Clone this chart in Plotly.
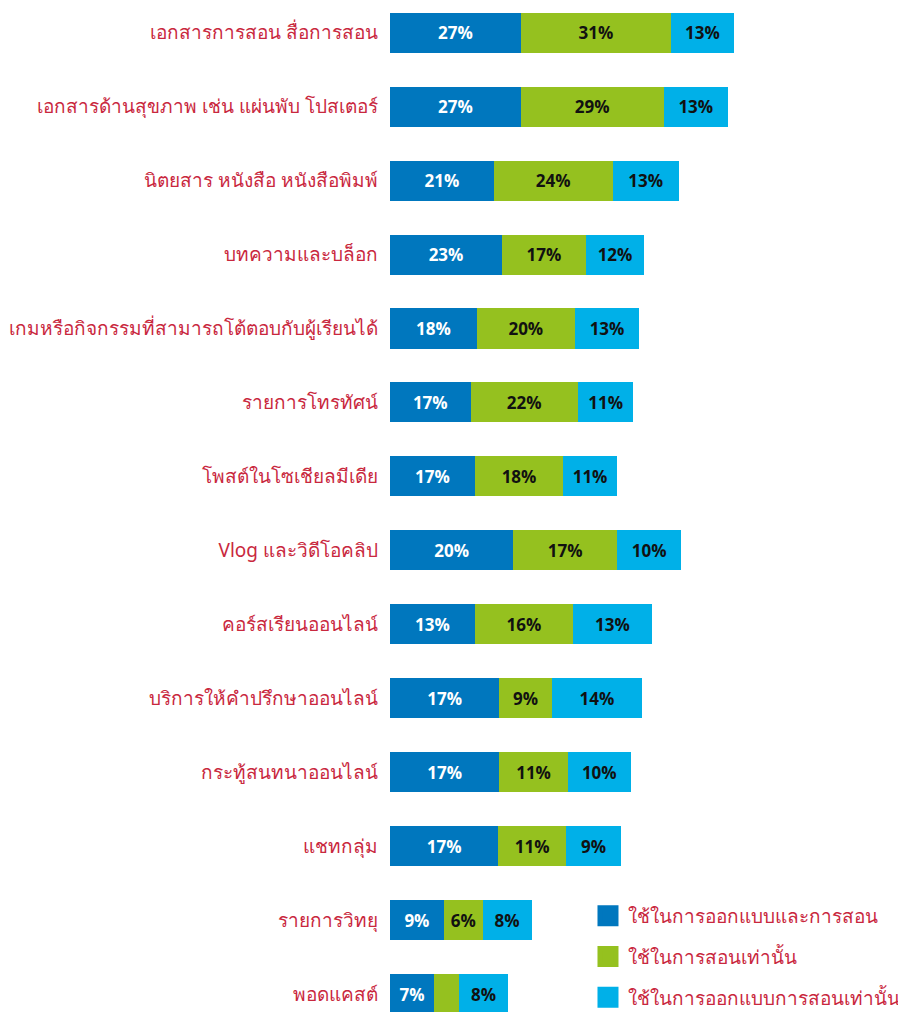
import plotly.graph_objects as go

categories = [
    "เอกสารการสอน สื่อการสอน",
    "เอกสารด้านสุขภาพ เช่น แผ่นพับ โปสเตอร์",
    "นิตยสาร หนังสือ หนังสือพิมพ์",
    "บทความและบล็อก",
    "เกมหรือกิจกรรมที่สามารถโต้ตอบกับผู้เรียนได้",
    "รายการโทรทัศน์",
    "โพสต์ในโซเชียลมีเดีย",
    "Vlog และวิดีโอคลิป",
    "คอร์สเรียนออนไลน์",
    "บริการให้คำปรึกษาออนไลน์",
    "กระทู้สนทนาออนไลน์",
    "แชทกลุ่ม",
    "รายการวิทยุ",
    "พอดแคสต์",
]

series_names = [
    "ใช้ในการออกแบบและการสอน",
    "ใช้ในการสอนเท่านั้น",
    "ใช้ในการออกแบบการสอนเท่านั้น",
]

# bar lengths as drawn in the picture (percent units)
design_and_teach = [27.0, 27.0, 21.4, 23.1, 17.9, 16.6, 17.5, 25.4, 17.5, 22.5, 22.5, 22.3, 11.1, 9.1]
teach_only = [30.9, 29.4, 24.5, 17.3, 20.2, 22.1, 18.2, 21.4, 20.2, 10.9, 14.2, 14.0, 8.0, 5.1]
design_only = [13.0, 13.3, 13.6, 12.0, 13.3, 11.5, 11.1, 13.3, 16.3, 18.5, 12.9, 11.3, 10.1, 10.2]

# printed labels
design_and_teach_lbl = ["27%", "27%", "21%", "23%", "18%", "17%", "17%", "20%", "13%", "17%", "17%", "17%", "9%", "7%"]
teach_only_lbl = ["31%", "29%", "24%", "17%", "20%", "22%", "18%", "17%", "16%", "9%", "11%", "11%", "6%", ""]
design_only_lbl = ["13%", "13%", "13%", "12%", "13%", "11%", "11%", "10%", "13%", "14%", "10%", "9%", "8%", "8%"]

colors = ["#0077BE", "#95C11F", "#00B0E8"]
text_colors = ["#FFFFFF", "#111111", "#111111"]
label_color = "#C9283E"

fig = go.Figure()
for i, (name, vals, lbls, col, tcol) in enumerate(zip(
    series_names,
    [design_and_teach, teach_only, design_only],
    [design_and_teach_lbl, teach_only_lbl, design_only_lbl],
    colors, text_colors,
)):
    fig.add_trace(go.Bar(
        y=categories, x=vals, orientation="h", name=name,
        marker=dict(color=col, line=dict(width=0)),
        text=lbls, textposition="inside", insidetextanchor="middle",
        textangle=0, constraintext="none",
        textfont=dict(family="Open Sans", size=17, color=tcol, weight="bold"),
        showlegend=False, hoverinfo="skip",
    ))
    # legend entry with larger square
    fig.add_trace(go.Scatter(
        x=[None], y=[None], mode="markers", name=name,
        legendgroup=f"g{i}",
        marker=dict(symbol="square", size=16, color=col, line=dict(color=col, width=5)),
        showlegend=True, hoverinfo="skip",
    ))

fig.update_layout(
    width=898, height=1004,
    margin=dict(l=382, r=0, t=0, b=0, autoexpand=False),
    barmode="stack", bargap=0.459,
    plot_bgcolor="white", paper_bgcolor="white",
    xaxis=dict(range=[0, 106.4], visible=False, fixedrange=True),
    yaxis=dict(
        categoryorder="array", categoryarray=categories,
        range=[13.243, -0.334], showgrid=False, zeroline=False,
        showline=False, ticks="", ticklabelstandoff=11, automargin=False,
        tickfont=dict(family="Noto Sans, sans-serif", size=19, color=label_color),
    ),
    legend=dict(
        x=0.3837, xanchor="left", y=0.1146, yanchor="top",
        traceorder="grouped", tracegroupgap=13,
        font=dict(family="Noto Sans, sans-serif", size=19, color=label_color),
        bgcolor="rgba(0,0,0,0)",
    ),
)

fig.write_html("out.html")
